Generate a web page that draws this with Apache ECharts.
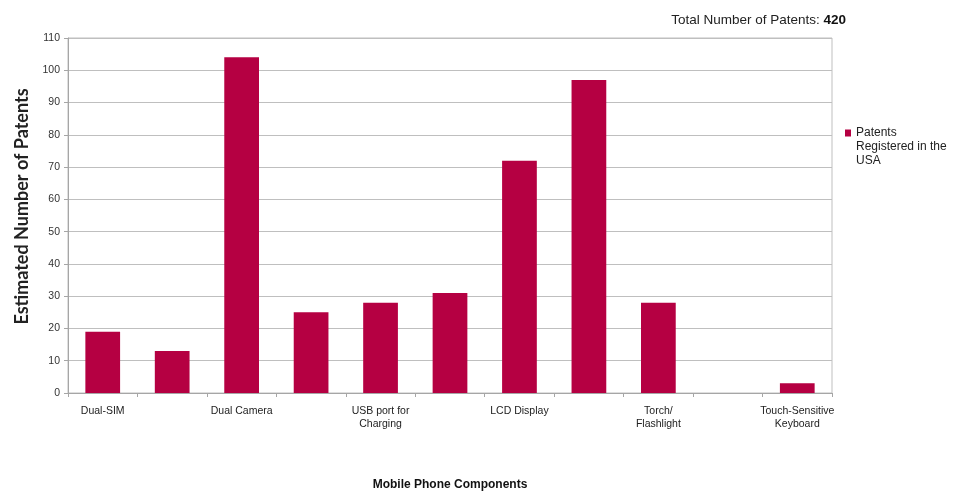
<!DOCTYPE html>
<html><head><meta charset="utf-8">
<script src="https://cdn.jsdelivr.net/npm/echarts@6/dist/echarts.min.js"></script>
<style>html,body{margin:0;padding:0;background:#fff}#c{width:959px;height:491px}</style>
</head><body><div id="c"></div>
<script>
const categories = ["Dual-SIM", "", "Dual Camera", "", "USB port for\nCharging", "", "LCD Display", "", "Torch/\nFlashlight", "", "Touch-Sensitive\nKeyboard"];
const patentsUSA = [19, 13, 104, 25, 28, 31, 72, 97, 28, 0, 3];
const seriesName = "Patents\nRegistered in the\nUSA";
const totalPatents = 420;
const yTicks = [0, 110, 10];

const chart = echarts.init(document.getElementById('c'), null, {renderer: 'canvas'});
chart.setOption({
  animation: false,
  backgroundColor: '#fff',
  textStyle: {fontFamily: 'Liberation Sans, Arial, sans-serif'},
  title: {
    text: '{a|Total Number of Patents: }{b|' + totalPatents + '}',
    right: 108, top: 8,
    textStyle: {
      fontWeight: 'normal',
      rich: {
        a: {fontSize: 13.5, color: '#222', fontWeight: 'normal', fontFamily: 'Liberation Sans'},
        b: {fontSize: 13.5, color: '#111', fontWeight: 'bold', fontFamily: 'Liberation Sans'}
      }
    }
  },
  legend: {
    left: 845, top: 98, orient: 'vertical', padding: 0,
    icon: 'rect', itemWidth: 6, itemHeight: 7, itemGap: 4,
    formatter: function (n) { return '\n\n' + n; },
    textStyle: {fontSize: 12, color: '#222', lineHeight: 14, fontFamily: 'Liberation Sans'},
    data: [seriesName]
  },
  grid: {left: 68, right: 127, top: 38, bottom: 98, show: true, borderColor: '#bfbfbf', borderWidth: 1,
         containLabel: false, outerBoundsMode: 'none'},
  xAxis: {
    type: 'category', data: categories,
    name: 'Mobile Phone Components', nameLocation: 'middle', nameGap: 86,
    nameTextStyle: {fontSize: 12, fontWeight: 'bold', color: '#111', fontFamily: 'Liberation Sans'},
    axisLine: {lineStyle: {color: '#a6a6a6'}},
    axisTick: {show: true, length: 4, lineStyle: {color: '#a6a6a6'}, alignWithLabel: false},
    axisLabel: {interval: 0, fontSize: 10.5, color: '#222', margin: 12, lineHeight: 13, fontFamily: 'Liberation Sans'}
  },
  yAxis: {
    type: 'value', min: yTicks[0], max: yTicks[1], interval: yTicks[2],
    name: 'Estimated Number of Patents', nameLocation: 'middle', nameGap: 36,
    nameTextStyle: {fontSize: 18, fontWeight: 'bold', color: '#222', fontFamily: 'Lato', padding: [0, 0, 0, 18]},
    axisLine: {show: true, lineStyle: {color: '#a6a6a6'}},
    axisTick: {show: true, length: 4, lineStyle: {color: '#a6a6a6'}},
    axisLabel: {fontSize: 10.5, color: '#333', margin: 8, fontFamily: 'Liberation Sans'},
    splitLine: {lineStyle: {color: '#bfbfbf', width: 1}}
  },
  series: [{
    name: seriesName, type: 'bar', data: patentsUSA, barWidth: '50%',
    itemStyle: {color: '#b50042'}
  }]
});
</script></body></html>
